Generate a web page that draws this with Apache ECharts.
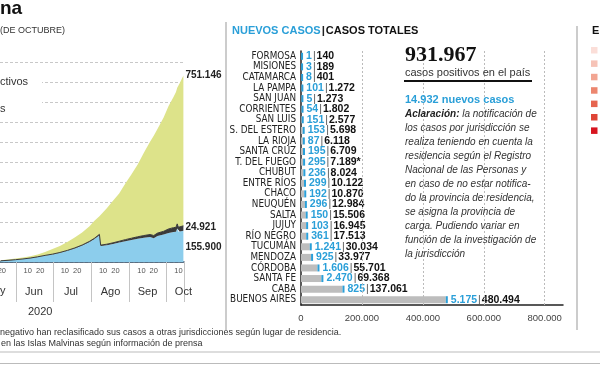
<!DOCTYPE html>
<html><head><meta charset="utf-8">
<script src="https://cdn.jsdelivr.net/npm/echarts@6/dist/echarts.min.js"></script>
<style>html,body{margin:0;padding:0;background:#fff}#c{width:600px;height:365px}</style>
</head><body><div id="c"></div>
<script>
// ---- Left chart: cumulative cases by status (stacked) ----
const areaDates = ['2020-05-19','2020-05-25','2020-05-31','2020-06-06','2020-06-12','2020-06-18','2020-06-24','2020-06-30','2020-07-06','2020-07-12','2020-07-18','2020-07-24','2020-07-30','2020-08-03','2020-08-07','2020-08-08','2020-08-13','2020-08-18','2020-08-23','2020-08-28','2020-09-02','2020-09-07','2020-09-12','2020-09-17','2020-09-20','2020-09-23','2020-09-28','2020-10-02','2020-10-06','2020-10-08','2020-10-09','2020-10-10','2020-10-11','2020-10-14'];
const activeCases = [5500,8000,11000,14500,19000,25000,32000,38000,46000,56000,68000,82000,100000,115000,134000,80000,84000,90000,97000,104000,110000,116000,121000,125000,119000,130000,138000,145000,150000,151000,168000,151000,152000,155900];
const deathCases = [390,450,530,630,770,940,1100,1300,1600,1900,2250,2700,3300,3700,4250,4400,5000,5900,6700,7800,9000,10100,11300,12500,13500,14400,15500,20300,21800,22400,22700,22900,23200,24921];
const recoveredCases = [2910,3650,5370,6870,9030,11560,16700,25200,32800,42300,52250,63300,75600,88000,89950,151300,179600,210000,238500,280200,320200,361900,414200,464200,498900,520400,569600,614400,652700,676000,680800,704000,719000,751146];
const firstDay = '2020-05-19', lastDay = '2020-10-14';
const monthNames = ['Jun','Jul','Ago','Sep','Oct'];
const monthLabelDates = ['2020-06-15','2020-07-15','2020-08-16','2020-09-15','2020-10-14'];
const dayTickLabels = ['10','20'];

// ---- Middle chart: cases by province ----
const provinces = ['FORMOSA','MISIONES','CATAMARCA','LA PAMPA','SAN JUAN','CORRIENTES','SAN LUIS','S. DEL ESTERO','LA RIOJA','SANTA CRUZ','T. DEL FUEGO','CHUBUT','ENTRE RÍOS','CHACO','NEUQUÉN','SALTA','JUJUY','RÍO NEGRO','TUCUMÁN','MENDOZA','CÓRDOBA','SANTA FE','CABA','BUENOS AIRES'];
const newCases = [1,3,8,101,5,54,151,153,87,195,295,236,299,192,296,150,103,361,1241,925,1606,2470,825,5175];
const totalCases = [140,189,401,1272,1273,1802,2577,5698,6118,6709,7189,8024,10122,10870,12984,15506,16945,17513,30034,33977,55701,69368,137061,480494];
const totalNotes = ['','','','','','','','','','','*','','','','','','','','','','','','',''];
const barTicks = [200000,400000,600000,800000];
const legendColors = ['#fbded8','#f6c3b7','#f2a592','#ec866f','#e6654f','#df4536','#d7141f'];

function fmt(n){ return String(n).replace(/\B(?=(\d{3})+(?!\d))/g,'.'); }

// daily category domain
const days = [];
for (let d = new Date(firstDay+'T00:00:00Z'); d <= new Date(lastDay+'T00:00:00Z'); d.setUTCDate(d.getUTCDate()+1)) days.push(d.toISOString().slice(0,10));
const lastIdx = days.length-1;

const BLUE = '#2a9fd8';
const COND = "'Liberation Sans Narrow','DejaVu Sans Condensed','Roboto Condensed','Liberation Sans',Arial,sans-serif";
const SANS = "'Liberation Sans',Arial,sans-serif";

const chart = echarts.init(document.getElementById('c'), null, {renderer:'canvas'});

function txt(x,y,text,o){ o=o||{}; return {type:'text', x:x, y:y, z:100, style:Object.assign({text:text, fill:'#333', fontSize:10, fontFamily:SANS, textAlign:'left', textVerticalAlign:'middle', verticalAlign:'middle'}, o)}; }

const graphics = [
  // left panel texts
  txt(0,9,'na',{fontSize:19,fontWeight:'bold',fill:'#111'}),
  txt(0,31,'(DE OCTUBRE)',{fontSize:9,fill:'#333'}),
  {type:'rect', z:90, shape:{x:0,y:74,width:42,height:16}, style:{fill:'#fff'}},
  {type:'rect', z:90, shape:{x:0,y:99,width:42,height:18}, style:{fill:'#fff'}},
  txt(0,82,'ctivos',{fontSize:11}),
  txt(0,109,'s',{fontSize:11}),
  txt(28,312,'2020',{fontSize:11,fill:'#333'}),
  txt(0,291,'y',{fontSize:11,fill:'#333'}),
  txt(0,333,'negativo han reclasificado sus casos a otras jurisdicciones según lugar de residencia.',{fontSize:9}),
  txt(1,344,'en las Islas Malvinas según información de prensa',{fontSize:9}),
  {type:'line', z:90, shape:{x1:0,y1:352,x2:600,y2:352}, style:{stroke:'#bbb',lineWidth:1}},
  {type:'line', z:90, shape:{x1:0,y1:363.5,x2:600,y2:363.5}, style:{stroke:'#bbb',lineWidth:1}},
  // separators
  {type:'line', z:90, shape:{x1:226,y1:22,x2:226,y2:330}, style:{stroke:'#ccc',lineWidth:2}},
  {type:'line', z:90, shape:{x1:577,y1:26,x2:577,y2:330}, style:{stroke:'#ccc',lineWidth:2}},
  // middle header
  {type:'text', x:232, y:31, z:100, style:{text:'{b|NUEVOS CASOS}{k||}{d|CASOS TOTALES}', textVerticalAlign:'middle', verticalAlign:'middle',
     rich:{b:{fill:BLUE,color:BLUE,fontSize:11,fontWeight:'bold',fontFamily:SANS}, k:{fill:'#222',color:'#222',fontSize:11.5,fontWeight:'bold',fontFamily:SANS,padding:[0,1,0,1]}, d:{fill:'#111',color:'#111',fontSize:11,fontWeight:'bold',fontFamily:SANS}}}},
  // right text block
  txt(405,55,'931.967',{fontSize:22,fontWeight:'bold',fontFamily:"'Liberation Serif','DejaVu Serif',serif",fill:'#111'}),
  txt(405,73,'casos positivos en el país',{fontSize:11,fill:'#333'}),
  {type:'line', z:90, shape:{x1:404,y1:81,x2:532,y2:81}, style:{stroke:'#111',lineWidth:2}},
  txt(405,100,'14.932 nuevos casos',{fontSize:11,fontWeight:'bold',fill:BLUE}),
  {type:'text', x:405, y:114, z:100, style:{text:'{b|Aclaración:} la notificación de', fill:'#333', fontSize:10, fontStyle:'italic', fontFamily:SANS, textVerticalAlign:'middle', verticalAlign:'middle',
     rich:{b:{fontWeight:'bold',fontStyle:'italic',fontSize:10,fontFamily:SANS,fill:'#222',color:'#222'}}}},
  txt(405,128,'los casos por jurisdicción se',{fontStyle:'italic'}),
  txt(405,142,'realiza teniendo en cuenta la',{fontStyle:'italic'}),
  txt(405,156,'residencia según el Registro',{fontStyle:'italic'}),
  txt(405,170,'Nacional de las Personas y',{fontStyle:'italic'}),
  txt(405,184,'en caso de no estar notifica-',{fontStyle:'italic'}),
  txt(405,198,'do la provincia de residencia,',{fontStyle:'italic'}),
  txt(405,212,'se asigna la provincia de',{fontStyle:'italic'}),
  txt(405,226,'carga. Pudiendo variar en',{fontStyle:'italic'}),
  txt(405,240,'función de la investigación de',{fontStyle:'italic'}),
  txt(405,254,'la jurisdicción',{fontStyle:'italic'}),
  // far right
  txt(592,31,'El',{fontSize:11,fontWeight:'bold',fill:'#111'})
];
legendColors.forEach((c,i)=>{ graphics.push({type:'rect', z:100, shape:{x:591,y:47+i*13.4,width:6.5,height:6.5}, style:{fill:c}}); });

function pairs(arr){ return areaDates.map((d,i)=>[d, arr[i]]); }

const option = {
  animation:false,
  backgroundColor:'#fff',
  textStyle:{fontFamily:SANS},
  grid:[
    {left:0, top:62, width:184, height:200, containLabel:false, outerBoundsMode:'none'},
    {left:301, top:51, width:262, height:254, containLabel:false, outerBoundsMode:'none'}
  ],
  xAxis:[
    {type:'category', gridIndex:0, data:days, boundaryGap:true,
     axisLine:{show:true, lineStyle:{color:'#34506a', width:1.5}},
     axisTick:{show:true, interval:(i,v)=>v.slice(8)==='01', length:40, lineStyle:{color:'#c4c4c4', width:1}},
     axisLabel:{interval:(i,v)=>dayTickLabels.indexOf(v.slice(8))>=0 || i===lastIdx, formatter:(v)=>String(+v.slice(8)), fontSize:7.5, color:'#555', margin:5, hideOverlap:false},
     splitLine:{show:false}},
    {type:'category', gridIndex:0, data:days, boundaryGap:true, position:'bottom', offset:20,
     axisLine:{show:false}, axisTick:{show:false},
     axisLabel:{interval:(i,v)=>monthLabelDates.indexOf(v)>=0, formatter:(v)=>monthNames[monthLabelDates.indexOf(v)], fontSize:11, color:'#333', margin:4, hideOverlap:false},
     splitLine:{show:false}},
    {type:'value', gridIndex:1, min:0, max:860000, interval:200000,
     axisLine:{show:true, lineStyle:{color:'#222', width:1.5}}, axisTick:{show:false},
     axisLabel:{formatter:(v)=>fmt(v), fontSize:9.5, color:'#444', margin:8, showMaxLabel:false},
     splitLine:{show:false}}
  ],
  yAxis:[
    {type:'value', gridIndex:0, min:0, max:1000000, interval:100000,
     axisLine:{show:false}, axisTick:{show:false}, axisLabel:{show:false},
     splitLine:{show:true, lineStyle:{type:[3,2], color:'#c8c8c8', width:1}}},
    {type:'category', gridIndex:1, data:provinces, inverse:true,
     axisLine:{show:true, lineStyle:{color:'#222', width:1.5}}, axisTick:{show:false},
     axisLabel:{fontSize:9.8, color:'#222', fontFamily:COND, margin:5, interval:0}}
  ],
  series:[
    {name:'Casos activos', type:'line', xAxisIndex:0, yAxisIndex:0, stack:'st', data:pairs(activeCases), showSymbol:false, symbol:'none',
     lineStyle:{width:0}, areaStyle:{color:'#8ccdec', opacity:1},
     endLabel:{show:true, formatter:(p)=>fmt(p.value[1]), color:'#222', fontWeight:'bold', fontSize:10, distance:2, offset:[0,16]}},
    {name:'Fallecidos', type:'line', xAxisIndex:0, yAxisIndex:0, stack:'st', data:pairs(deathCases), showSymbol:false, symbol:'none',
     lineStyle:{width:1, color:'#3a3a3a'}, areaStyle:{color:'#3a3a3a', opacity:1},
     endLabel:{show:true, formatter:(p)=>fmt(p.value[1]), color:'#222', fontWeight:'bold', fontSize:10, distance:2, offset:[0,1]}},
    {name:'Recuperados', type:'line', xAxisIndex:0, yAxisIndex:0, stack:'st', data:pairs(recoveredCases), showSymbol:false, symbol:'none',
     lineStyle:{width:0}, areaStyle:{color:'#dde38a', opacity:1},
     endLabel:{show:true, formatter:(p)=>fmt(p.value[1]), color:'#222', fontWeight:'bold', fontSize:10, distance:2, offset:[0,0]}},
    {name:'total', type:'bar', xAxisIndex:2, yAxisIndex:1, stack:'pv', barWidth:7,
     data:totalCases.map((t,i)=>t-newCases[i]), itemStyle:{color:'#bdbdbd'},
     markLine:{silent:true, symbol:'none', label:{show:false}, lineStyle:{type:[2,2], color:'#bbb', width:1},
       data:barTicks.map(v=>({xAxis:v}))}},
    {name:'nuevos', type:'bar', xAxisIndex:2, yAxisIndex:1, stack:'pv', barWidth:7, barMinHeight:2,
     data:newCases, itemStyle:{color:BLUE},
     label:{show:true, position:'right', distance:3,
       formatter:(p)=>'{n|'+fmt(newCases[p.dataIndex])+'}{s||}{t|'+fmt(totalCases[p.dataIndex])+totalNotes[p.dataIndex]+'}',
       rich:{n:{color:BLUE, fontWeight:'bold', fontSize:10.5, fontFamily:SANS},
             s:{color:'#555', fontSize:10.5, padding:[0,1,0,1]},
             t:{color:'#111', fontWeight:'bold', fontSize:10.5, fontFamily:SANS}}}}
  ],
  graphic:graphics
};
chart.setOption(option);
</script>
</body></html>
